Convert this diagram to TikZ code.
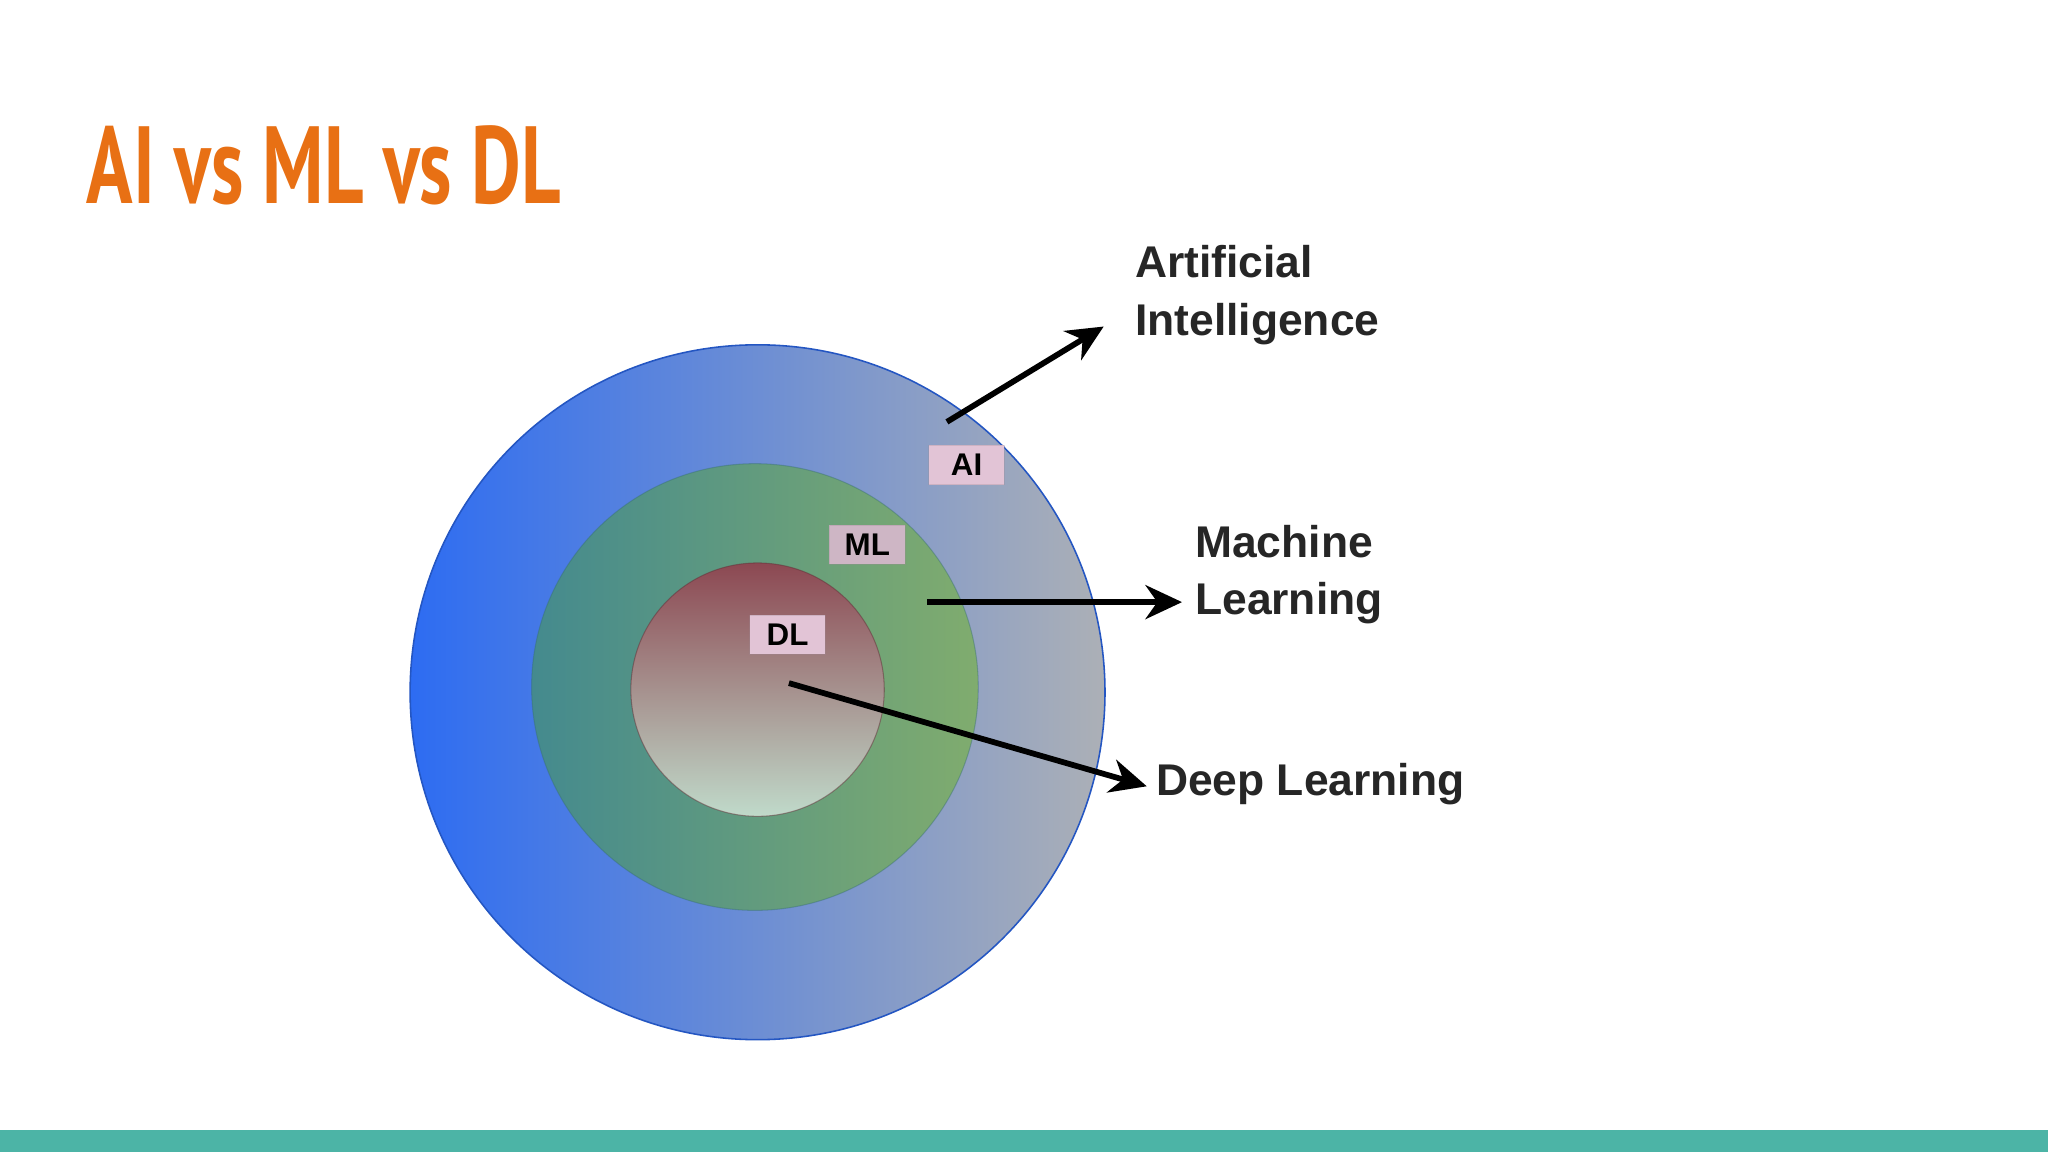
\documentclass[tikz,border=0pt]{standalone}
\usepackage{fontspec}
\setmainfont{Liberation Sans}
\newfontfamily\titlefont{PT Sans}
\usetikzlibrary{arrows.meta}
\definecolor{ttl}{RGB}{232,112,20}
\definecolor{bar}{RGB}{76,180,166}
\definecolor{bl}{RGB}{45,108,242}
\definecolor{gr}{RGB}{172,176,182}
\definecolor{tl}{RGB}{68,138,142}
\definecolor{gn}{RGB}{128,172,110}
\definecolor{rd}{RGB}{140,72,82}
\definecolor{pl}{RGB}{192,218,202}
\definecolor{pk}{RGB}{226,196,214}
\tikzset{
 lab/.style={font=\bfseries\fontsize{12}{14}\selectfont, fill=pk, draw=pk!70!black, draw opacity=0.3, minimum width=29pt, minimum height=15pt, inner sep=1pt},
 txt/.style={font=\bfseries\fontsize{17}{22}\selectfont, anchor=west, align=left, text=black!85},
 arr/.style={line width=2.2pt, -{Stealth[length=14pt,width=13pt]}}
}
\begin{document}
\begin{tikzpicture}[x=0.5pt,y=-0.5pt]
\useasboundingbox (0,0) rectangle (1568,882);
\fill[white] (0,0) rectangle (1568,882);
\fill[bar] (0,865) rectangle (1568,882);
\node[anchor=base west, inner sep=0, text=ttl] (title) at (66,156) {\scalebox{0.7}[1]{\titlefont\bfseries\fontsize{42}{46}\selectfont AI vs ML vs DL}};
\shade[left color=bl, right color=gr, draw=bl!80!black, line width=0.6pt] (580,530) circle (266);
\node[circle, minimum size=266pt, inner sep=0] (ai) at (580,530) {};
\shade[left color=tl, right color=gn, draw=tl!80!black, draw opacity=0.4] (578,526) circle (171);
\shade[top color=rd, bottom color=pl, draw=rd!70!black, draw opacity=0.5] (580,528) circle (97);
\node[lab] (lai) at (740,356) {AI};
\node[lab, fill=pk!80!gray] (lml) at (664,417) {ML};
\node[lab] (ldl) at (603,486) {DL};
\coordinate (a1) at (725,323);
\coordinate (m1) at (710,461);
\coordinate (d1) at (604,523);
\node[txt] (tai) at (862,226) {Artificial\\Intelligence};
\node[txt] (tml) at (908,440) {Machine\\Learning};
\node[txt] (tdl) at (878,600) {Deep Learning};
\draw[arr] (a1) -- (845,250);
\draw[arr] (m1) -- (905,461);
\draw[arr] (d1) -- (878,602);
\end{tikzpicture}
\end{document}
